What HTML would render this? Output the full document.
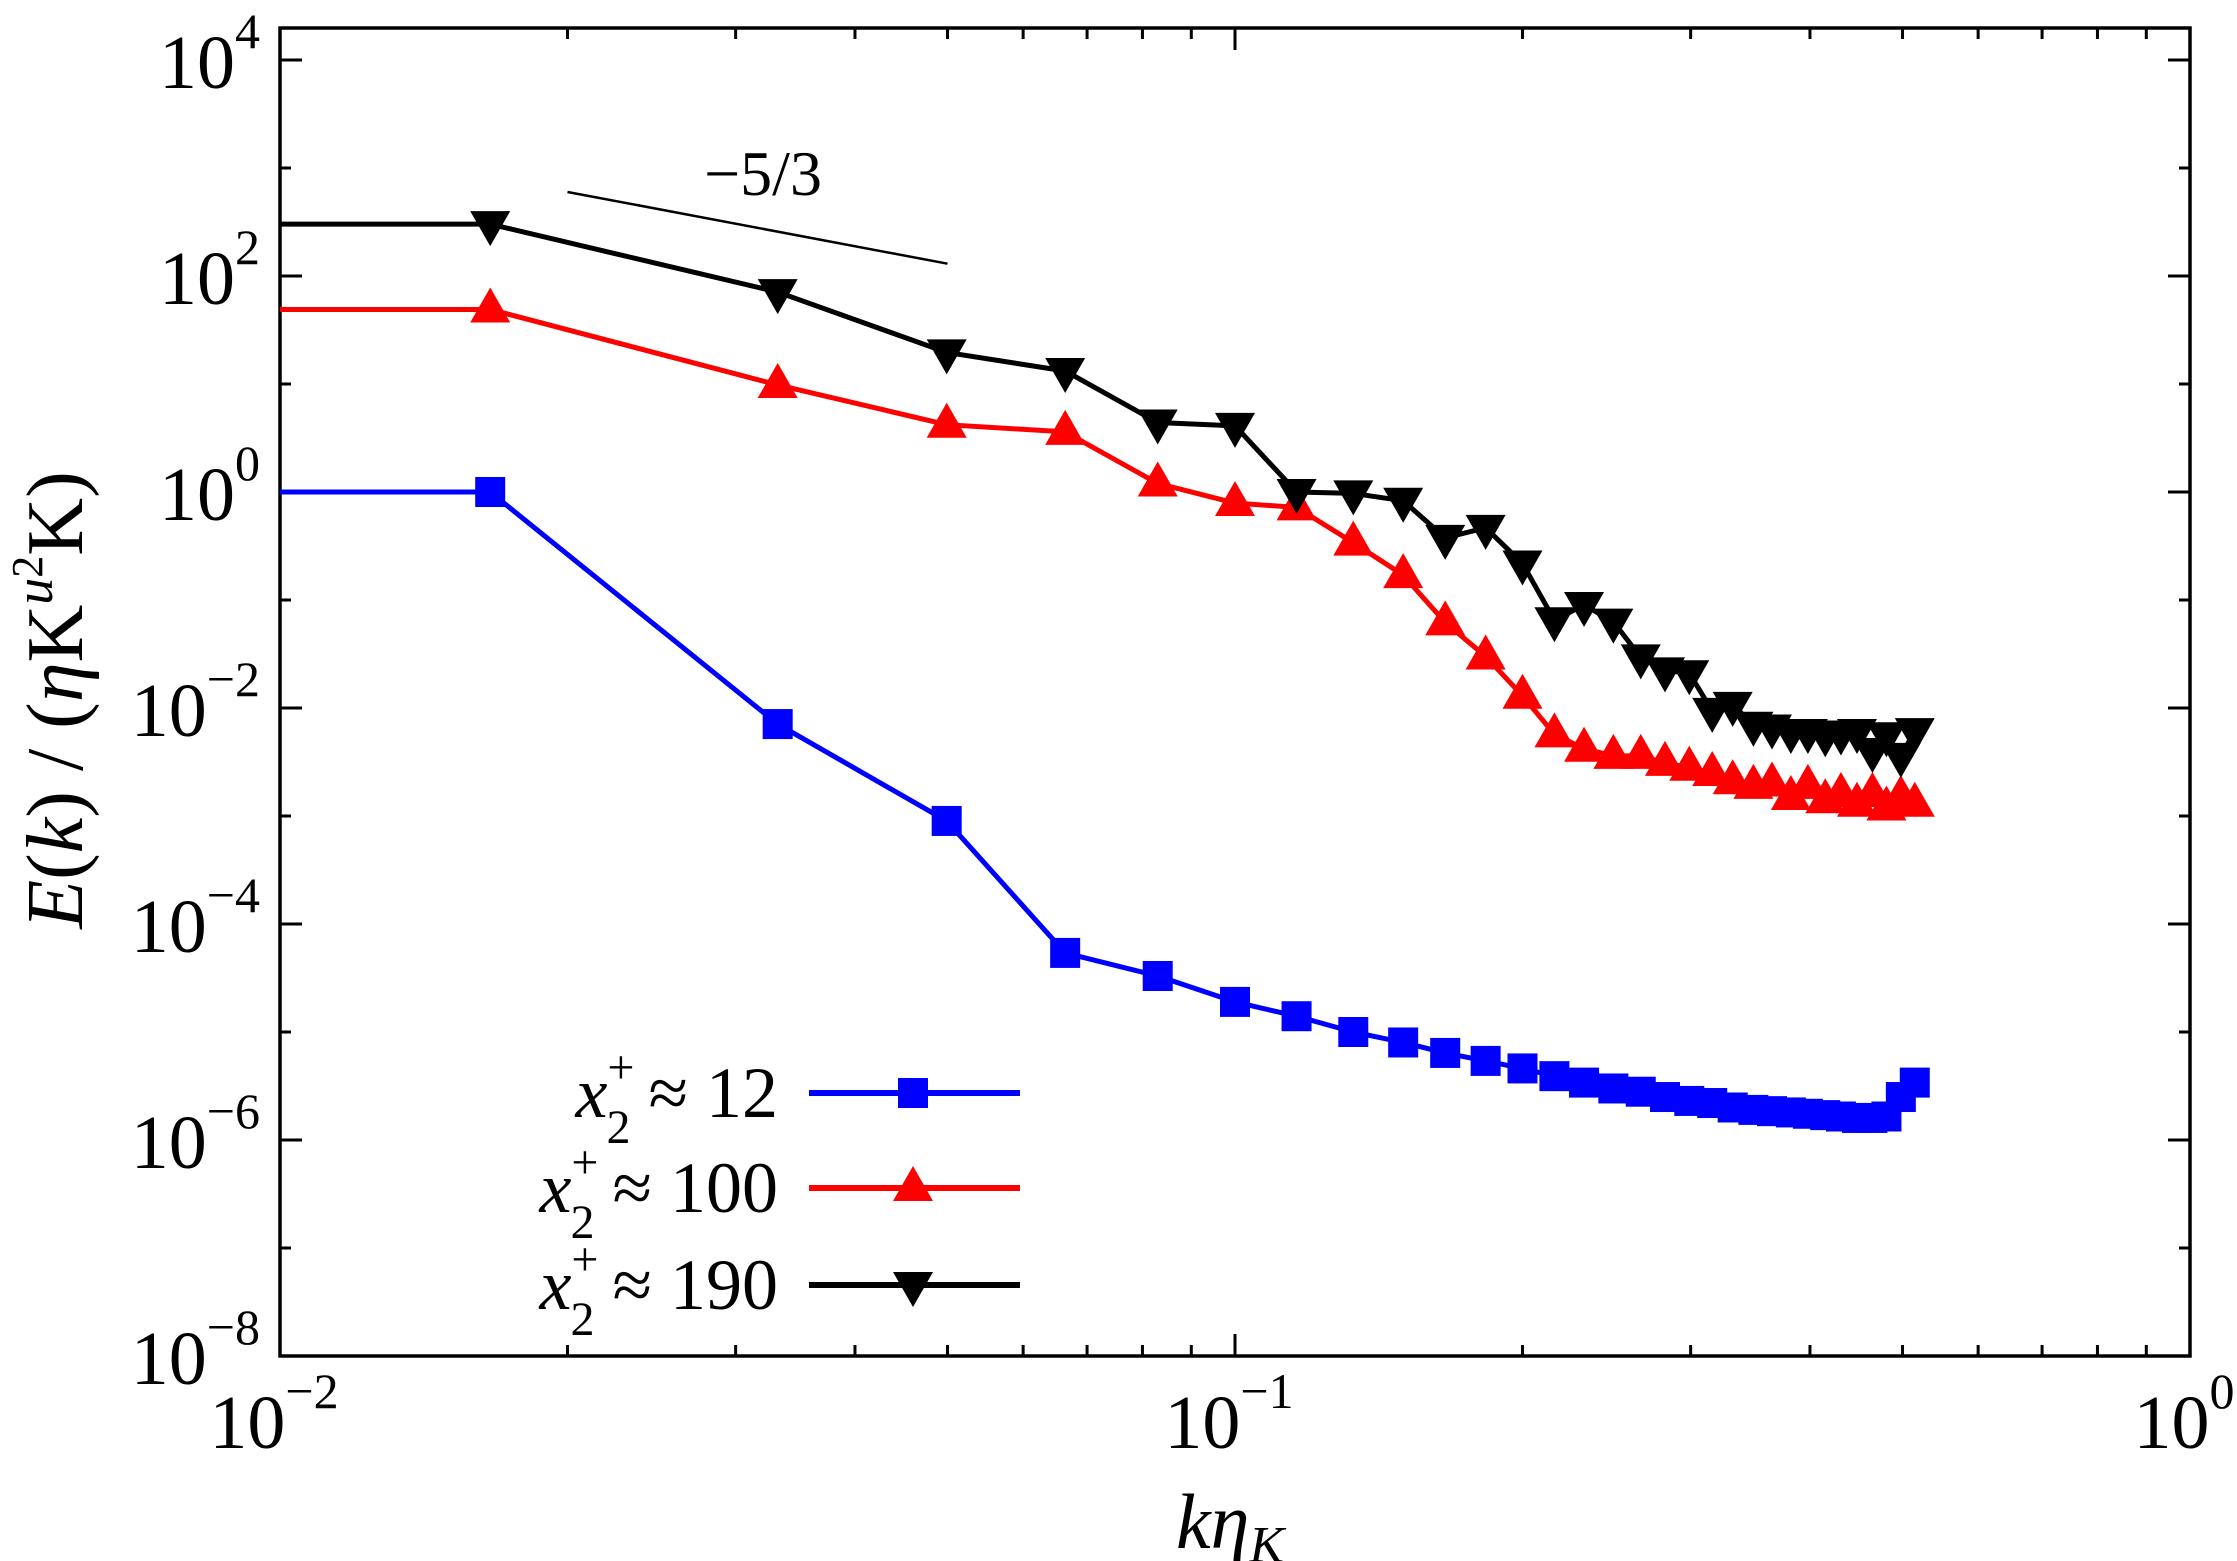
<!DOCTYPE html>
<html><head><meta charset="utf-8"><style>
html,body{margin:0;padding:0;background:#fff;}
svg{display:block;font-family:"Liberation Serif",serif;}
</style></head><body>
<svg id="chart" width="2237" height="1561" viewBox="0 0 2237 1561" xmlns="http://www.w3.org/2000/svg">
<g id="plot"></g>
<text transform="translate(82,700) rotate(-90)" text-anchor="middle" font-size="80"><tspan font-style="italic">E</tspan>(<tspan font-style="italic">k</tspan>) / (<tspan font-style="italic">η</tspan>K<tspan font-style="italic" font-size="54" dy="-30">u</tspan><tspan font-size="44" dy="-10">2</tspan><tspan dy="40">K)</tspan></text>
<text x="1230" y="1548" text-anchor="middle" font-size="78" font-style="italic">kη<tspan font-size="52" dy="14">K</tspan></text>
<text x="763" y="195" text-anchor="middle" font-size="64">−5/3</text>
</svg>
<script>
const kVals=[0.0166,0.0332,0.0499,0.0664,0.083,0.100,0.116,0.133,0.150,0.166,0.183,0.200,0.216,0.232,0.249,0.266,0.282,0.299,0.316,0.332,0.349,0.365,0.382,0.398,0.415,0.431,0.448,0.465,0.481,0.498,0.515];
const blueVals=[1.0,0.0071,9e-4,5.4e-5,3.3e-5,1.9e-5,1.4e-5,1.0e-5,8e-6,6.4e-6,5.4e-6,4.6e-6,3.9e-6,3.4e-6,3.0e-6,2.8e-6,2.5e-6,2.3e-6,2.2e-6,2.0e-6,1.9e-6,1.85e-6,1.8e-6,1.75e-6,1.7e-6,1.65e-6,1.6e-6,1.6e-6,1.65e-6,2.5e-6,3.4e-6];
const redVals=[49,9.8,4.2,3.6,1.2,0.79,0.72,0.34,0.17,0.062,0.03,0.013,0.0057,0.0042,0.0036,0.0036,0.0031,0.0028,0.0025,0.0021,0.0019,0.002,0.0015,0.0019,0.0014,0.0016,0.0013,0.0016,0.0012,0.0015,0.0013];
const blackVals=[302,71,19.6,13.2,4.4,4.1,1.0,0.97,0.83,0.376,0.466,0.218,0.065,0.09,0.063,0.0294,0.0223,0.021,0.0094,0.0107,0.007,0.0066,0.006,0.006,0.0056,0.0058,0.006,0.004,0.0056,0.0036,0.0061];
const yTickExps=[4,2,0,-2,-4,-6,-8];
const xTickExps=[-2,-1,0];
const slopeK=[0.02,0.05];
const slopeE=[600,130];

const NS="http://www.w3.org/2000/svg";
const L=280,R=2190,T=28,B=1356;
const X=k=>L+(Math.log10(k)+2)*955;
const Y=e=>60+(4-Math.log10(e))*108;
const g=document.getElementById('plot');
function mk(tag,attrs,parent){const e=document.createElementNS(NS,tag);for(const a in attrs)e.setAttribute(a,attrs[a]);(parent||g).appendChild(e);return e;}

const fr=mk('rect',{x:L,y:T,width:R-L,height:B-T,fill:'none',stroke:'#000','stroke-width':3.5});



for(let p=-8;p<=4;p++){
  const y=Y(Math.pow(10,p));const len=(p%2===0)?22:11;
  const t1=mk('line',{x1:L,x2:L+len,y1:y,y2:y,stroke:'#000','stroke-width':3});
  
  
  const t2=mk('line',{x1:R,x2:R-len,y1:y,y2:y,stroke:'#000','stroke-width':3});
  
  
}
yTickExps.forEach(p=>{
  const t=mk('text',{x:L-20,y:Y(Math.pow(10,p))+28,'text-anchor':'end','font-size':76});
  
  
  t.innerHTML='10<tspan font-size="50" dy="-40">'+(p<0?'−'+(-p):p)+'</tspan>';
});
for(let d=-2;d<0;d++){
  for(let m=1;m<=10;m++){
    const k=m*Math.pow(10,d);const x=X(k);const len=(m===1||m===10)?22:11;
    if(x<=L+1||x>=R-1)continue;
    const t1=mk('line',{x1:x,x2:x,y1:B,y2:B-len,stroke:'#000','stroke-width':3});
    
    
    const t2=mk('line',{x1:x,x2:x,y1:T,y2:T+len,stroke:'#000','stroke-width':3});
    
    
  }
}
xTickExps.forEach(p=>{
  const t=mk('text',{x:X(Math.pow(10,p))-6,y:B+92,'text-anchor':'middle','font-size':76});
  
  
  t.innerHTML='10<tspan font-size="50" dy="-40">'+(p<0?'−'+(-p):p)+'</tspan>';
});

const sl=mk('line',{x1:X(slopeK[0]),y1:Y(slopeE[0]),x2:X(slopeK[1]),y2:Y(slopeE[1]),stroke:'#000','stroke-width':2.5});



function marker(type,x,y,color,parent){
  let e;
  if(type==='sq'){e=mk('rect',{x:x-15,y:y-15,width:30,height:30,fill:color},parent);}
  else if(type==='up'){e=mk('polygon',{points:`${x},${y-22} ${x-20},${y+13} ${x+20},${y+13}`,fill:color},parent);}
  else {e=mk('polygon',{points:`${x},${y+22} ${x-20},${y-13} ${x+20},${y-13}`,fill:color},parent);}
  return e;
}
function series(vals,color,type,name){
  const grp=mk('g',{});
  
  
  let d='M'+L+','+Y(vals[0]);
  vals.forEach((v,i)=>{d+=' L'+X(kVals[i])+','+Y(v);});
  const p=mk('path',{d:d,fill:'none',stroke:color,'stroke-width':5,'stroke-linejoin':'round'},grp);
  
  
  vals.forEach((v,i)=>{
    const m=marker(type,X(kVals[i]),Y(v),color,grp);
    
    
  });
}
series(blueVals,'#0000ff','sq','series-x12');
series(redVals,'#ff0000','up','series-x100');
series(blackVals,'#000000','down','series-x190');

const leg=[['12','#0000ff','sq',1093],['100','#ff0000','up',1188],['190','#000000','down',1285]];
const lg=mk('g',{});


leg.forEach(([lab,c,t,y])=>{
  const e=mk('g',{},lg);
  
  
  mk('line',{x1:809,x2:1020,y1:y,y2:y,stroke:c,'stroke-width':6},e);
  marker(t,913,y,c,e);
  const tx=mk('text',{x:778,y:y+24,'text-anchor':'end','font-size':72},e);
  tx.innerHTML='<tspan font-style="italic">x</tspan><tspan font-size="48" dy="-34">+</tspan><tspan font-size="48" dx="-28" dy="60">2</tspan><tspan dy="-26"> ≈ '+lab+'</tspan>';
});
</script>
</body></html>
